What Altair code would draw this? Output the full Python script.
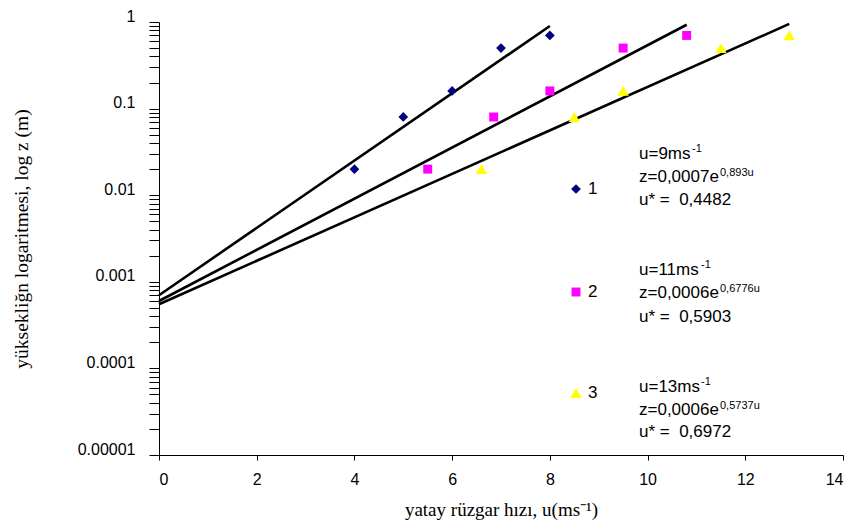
import altair as alt
import pandas as pd

# ---- data ----
heights = [0.02, 0.08, 0.16, 0.5, 0.7]
u_run1 = [4.0, 5.0, 6.0, 7.0, 8.0]
u_run2 = [5.5, 6.85, 8.0, 9.5, 10.8]
u_run3 = [6.6, 8.5, 9.5, 11.5, 12.9]
series_names = ["1", "2", "3"]
series_colors = ["#000080", "#FF00FF", "#FFFF00"]
series_shapes = ["diamond", "square", "triangle-up"]
series_sizes = [95, 80, 130]

fit_u_start = [0.0, 0.0, 0.0]
fit_z_start = [0.0007, 0.0006, 0.00055]
fit_u_end = [8.0, 10.8, 12.9]
fit_z_end = [0.9, 0.93, 0.95]

speed_text = ["u=9ms", "u=11ms", "u=13ms"]
speed_sup = ["-1", "-1", "-1"]
eq_text = ["z=0,0007e", "z=0,0006e", "z=0,0006e"]
eq_sup = ["0,893u", "0,6776u", "0,5737u"]
ustar_text = ["u* = \u00a00,4482", "u* = \u00a00,5903", "u* = \u00a00,6972"]

x_ticks = [0, 2, 4, 6, 8, 10, 12, 14]
y_major = [0.00001, 0.0001, 0.001, 0.01, 0.1, 1]
y_ticks = [m * d for d in y_major[:-1] for m in range(1, 10)] + [1]

x_title = "yatay rüzgar hızı, u(ms⁻¹)"
y_title = "yüksekliğn logaritmesi, log z (m)"

SANS = "Liberation Sans"
SERIF = "Liberation Serif"

# ---- tables ----
runs = [u_run1, u_run2, u_run3]
pts = pd.DataFrame(
    [{"series": s, "u": u, "z": z} for s, us in zip(series_names, runs) for u, z in zip(us, heights)]
)
fit = pd.DataFrame(
    [{"series": s, "u": a, "z": b} for s, a, b in zip(series_names, fit_u_start, fit_z_start)]
    + [{"series": s, "u": a, "z": b} for s, a, b in zip(series_names, fit_u_end, fit_z_end)]
)

x_enc = alt.X(
    "u:Q",
    scale=alt.Scale(domain=[0, 14], nice=False, zero=False),
    axis=alt.Axis(
        values=x_ticks, format="d", title=x_title, grid=False,
        tickSize=5, labelPadding=11, titlePadding=13,
        labelFontSize=16, titleFontSize=19,
        labelFont=SANS, titleFont=SERIF, titleFontWeight="normal",
    ),
)
y_enc = alt.Y(
    "z:Q",
    scale=alt.Scale(type="log", domain=[0.00001, 1], nice=False),
    axis=alt.Axis(
        values=y_ticks, title=y_title, grid=False,
        labelExpr="abs(log(datum.value)/LN10 - round(log(datum.value)/LN10)) < 0.001 ? format(datum.value, '.5~f') : ''",
        tickSize=10, labelPadding=14, labelOffset=-6, titlePadding=46,
        labelFontSize=16, titleFontSize=19.5,
        labelFont=SANS, titleFont=SERIF, titleFontWeight="normal",
    ),
)

layers = []
layers.append(
    alt.Chart(fit).mark_line(color="black", strokeWidth=2.6).encode(x=x_enc, y=y_enc, detail="series:N")
)
for s, col, shp, sz in zip(series_names, series_colors, series_shapes, series_sizes):
    layers.append(
        alt.Chart(pts[pts.series == s]).mark_point(
            filled=True, opacity=1, color=col, shape=shp, size=sz, strokeWidth=0
        ).encode(x=x_enc, y=y_enc)
    )

def txt(t, x, y, size=17, align="left"):
    return alt.Chart(pd.DataFrame({"t": [t]})).mark_text(
        align=align, baseline="middle", font=SANS, fontSize=size, color="black"
    ).encode(x=alt.value(x), y=alt.value(y), text="t:N")

def sym(color, shape, size, x, y):
    return alt.Chart(pd.DataFrame({"t": [0]})).mark_point(
        filled=True, opacity=1, color=color, shape=shape, size=size, strokeWidth=0
    ).encode(x=alt.value(x), y=alt.value(y))

# legend / annotation blocks
block_y = [(132, 155, 178), (248, 271, 295), (365, 388, 410)]
marker_y = [167, 270, 371]
speed_sup_x = [533, 542, 542]
for i in range(3):
    y1, y2, y3 = block_y[i]
    layers.append(sym(series_colors[i], series_shapes[i], series_sizes[i], 417, marker_y[i]))
    layers.append(txt(series_names[i], 429, marker_y[i]))
    layers.append(txt(speed_text[i], 480, y1))
    layers.append(txt(speed_sup[i], speed_sup_x[i], y1 - 5, size=11))
    layers.append(txt(eq_text[i], 480, y2))
    layers.append(txt(eq_sup[i], 561, y2 - 4, size=11))
    layers.append(txt(ustar_text[i], 480, y3))

chart = alt.layer(*layers).properties(
    width=684,
    height=433,
    padding={"left": 151, "top": 14, "right": 2, "bottom": 67},
    autosize=alt.AutoSizeParams(type="none"),
    background="white",
).configure_view(stroke=None).configure_axis(
    domainColor="black", tickColor="black", labelColor="black", titleColor="black",
    labelFont=SANS, titleFont=SERIF, titleFontWeight="normal", domainWidth=1, tickWidth=1,
)

chart.save("out.html", embed_options={"renderer": "svg", "actions": False})
